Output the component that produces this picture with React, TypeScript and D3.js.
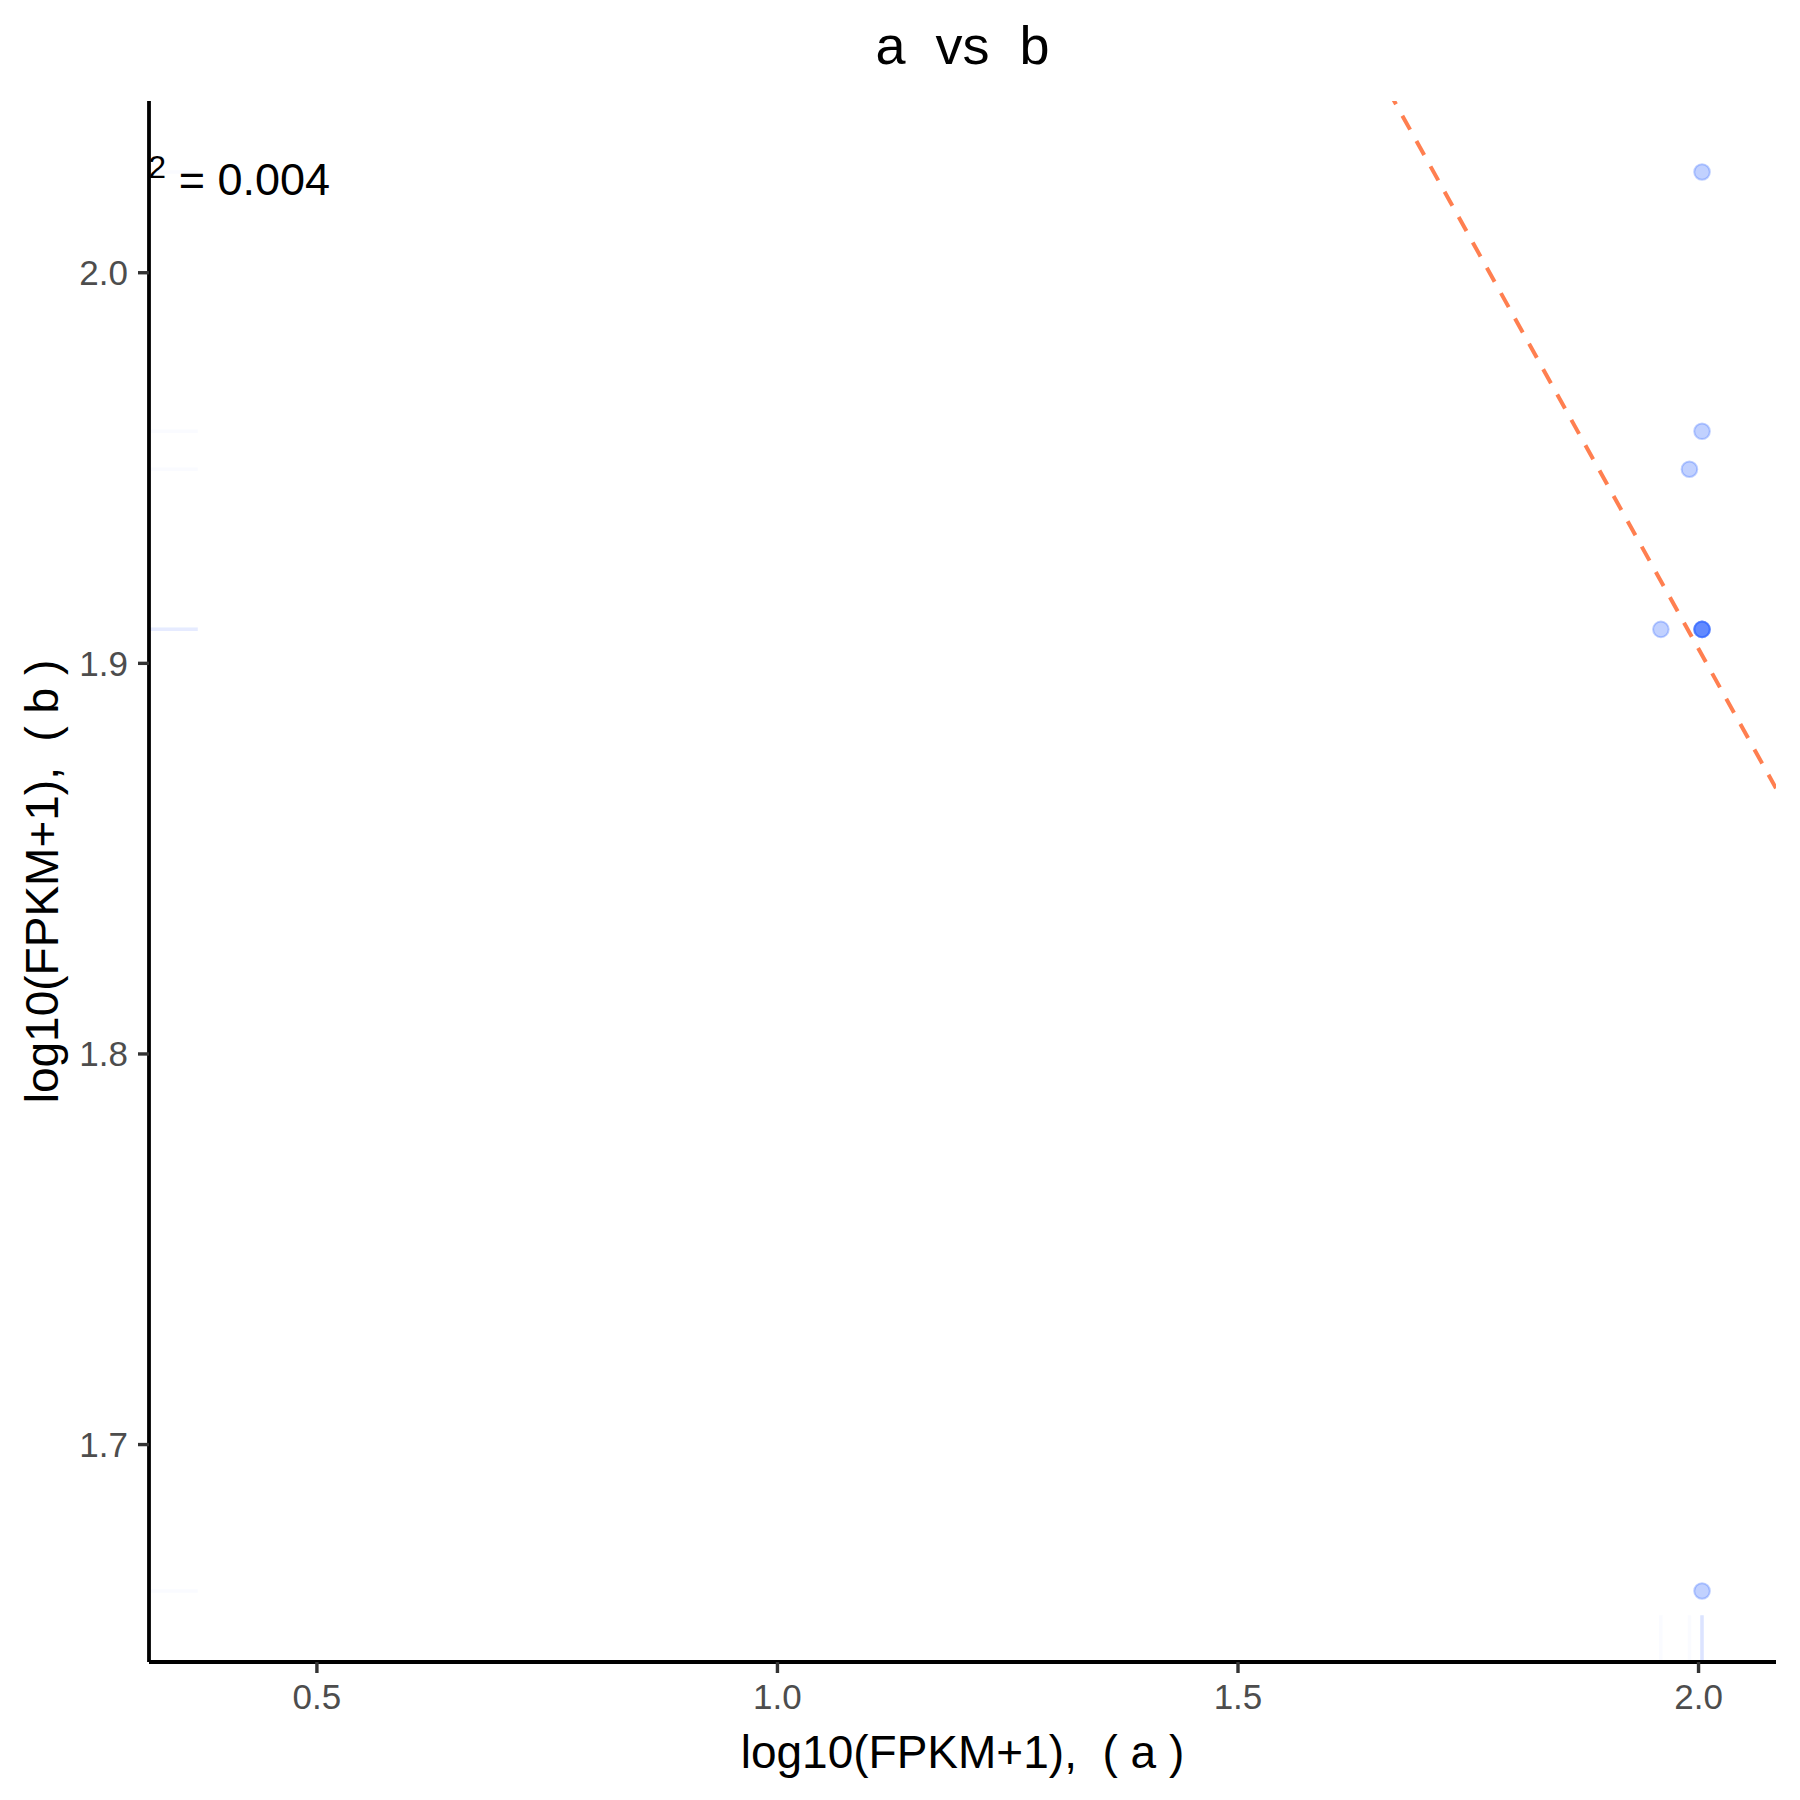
import React from 'react';
import * as d3 from 'd3';

// sample points (log10(FPKM+1) for sample a and b)
// last entry has no b value: it only stretches the x range
const xValues = [2.0038, 2.0038, 1.9901, 1.9591, 2.0038, 2.0038, 2.0038, 2.0038, 2.0038, 0.398];
const yValues = [2.0258, 1.9594, 1.9497, 1.9087, 1.9087, 1.9087, 1.9087, 1.9087, 1.6625, null];

const xTicks = [0.5, 1.0, 1.5, 2.0];
const yTicks = [1.7, 1.8, 1.9, 2.0];

// fitted line
const fitSlope = -0.4245;
const fitIntercept = 2.7527;
const rSquaredLabel = '0.004';

const titleText = 'a  vs  b';
const xTitle = 'log10(FPKM+1),  ( a )';
const yTitle = 'log10(FPKM+1),  ( b )';

const width = 1800;
const height = 1800;
const margin = { top: 101, right: 24, bottom: 138, left: 149 };
const font = '"Liberation Sans", Arial, Helvetica, sans-serif';
const pointColor = '#3366FF';

const expand = (ext) => {
  const pad = (ext[1] - ext[0]) * 0.05;
  return [ext[0] - pad, ext[1] + pad];
};

const App = () => {
  const pw = width - margin.left - margin.right;
  const ph = height - margin.top - margin.bottom;

  const xs = d3.extent(xValues);
  const ys = d3.extent(yValues.filter(v => v != null));

  const x = d3.scaleLinear().domain(expand(xs)).range([margin.left, margin.left + pw]);
  const y = d3.scaleLinear().domain(expand(ys)).range([margin.top + ph, margin.top]);

  const pts = xValues
    .map((v, i) => ({ x: v, y: yValues[i] }))
    .filter(d => d.y != null);

  const [x0, x1] = x.domain();
  const fitLine = d3.line()
    .x(d => x(d))
    .y(d => y(fitIntercept + fitSlope * d));

  const rugLenX = pw * 0.03;
  const rugLenY = ph * 0.03;
  const bottom = margin.top + ph;

  return (
    <div style={{ position: 'absolute', left: 0, top: 0 }}>
      <svg width={width} height={height} style={{ display: 'block', background: '#fff' }}>
        <defs>
          <clipPath id="panel">
            <rect x={margin.left} y={margin.top} width={pw} height={ph} />
          </clipPath>
        </defs>

        <g clipPath="url(#panel)">
          {/* rugs */}
          {pts.map((d, i) => (
            <line key={'ry' + i} x1={margin.left} x2={margin.left + rugLenX} y1={y(d.y)} y2={y(d.y)}
              stroke={pointColor} strokeOpacity={0.025} strokeWidth={3.5} />
          ))}
          {pts.map((d, i) => (
            <line key={'rx' + i} x1={x(d.x)} x2={x(d.x)} y1={bottom} y2={bottom - rugLenY}
              stroke={pointColor} strokeOpacity={0.025} strokeWidth={3.5} />
          ))}

          {pts.map((d, i) => (
            <circle key={'p' + i} cx={x(d.x)} cy={y(d.y)} r={7.8}
              fill={pointColor} fillOpacity={0.3}
              stroke={pointColor} strokeOpacity={0.3} strokeWidth={2} />
          ))}

          <path d={fitLine([x0, x1])} fill="none" stroke="#FF7F50" strokeWidth={4}
            strokeDasharray="16 13" />

          <text x={x(xs[0])} y={y(ys[1]) + 23} textAnchor="middle" fontFamily={font} fontSize={45} fill="#000">
            R<tspan dy={-17} fontSize={32}>2</tspan><tspan dy={17}> = {rSquaredLabel}</tspan>
          </text>
        </g>

        {/* axes */}
        <line x1={margin.left} x2={margin.left + pw} y1={bottom} y2={bottom} stroke="#000" strokeWidth={3.8} />
        <line x1={margin.left} x2={margin.left} y1={margin.top} y2={bottom} stroke="#000" strokeWidth={3.8} />

        {xTicks.map(t => (
          <g key={'xt' + t}>
            <line x1={x(t)} x2={x(t)} y1={bottom} y2={bottom + 11} stroke="#333" strokeWidth={3.4} />
            <text x={x(t)} y={bottom + 47} textAnchor="middle" fontFamily={font} fontSize={35} fill="#4D4D4D">
              {t.toFixed(1)}
            </text>
          </g>
        ))}
        {yTicks.map(t => (
          <g key={'yt' + t}>
            <line x1={margin.left - 11} x2={margin.left} y1={y(t)} y2={y(t)} stroke="#333" strokeWidth={3.4} />
            <text x={margin.left - 21} y={y(t) + 12.5} textAnchor="end" fontFamily={font} fontSize={35} fill="#4D4D4D">
              {t.toFixed(1)}
            </text>
          </g>
        ))}

        <text x={margin.left + pw / 2} y={1768} textAnchor="middle" fontFamily={font} fontSize={46} fill="#000"
          xmlSpace="preserve" style={{ whiteSpace: 'pre' }}>
          {xTitle}
        </text>
        <text transform={`translate(58,${margin.top + ph / 2}) rotate(-90)`} textAnchor="middle"
          fontFamily={font} fontSize={46} fill="#000" xmlSpace="preserve" style={{ whiteSpace: 'pre' }}>
          {yTitle}
        </text>
        <text x={margin.left + pw / 2} y={64} textAnchor="middle" fontFamily={font} fontSize={54} fill="#000"
          xmlSpace="preserve" style={{ whiteSpace: 'pre' }}>
          {titleText}
        </text>
      </svg>
    </div>
  );
};

export default App;
